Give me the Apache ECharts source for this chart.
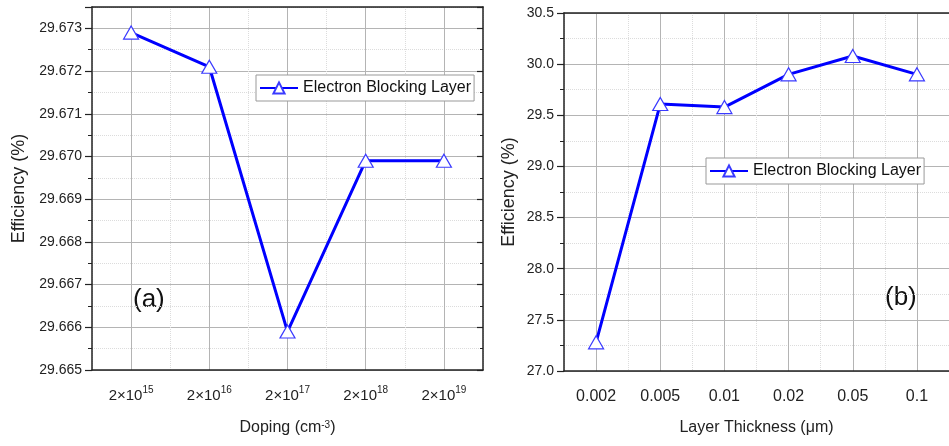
<!DOCTYPE html>
<html>
<head>
<meta charset="utf-8">
<script src="https://cdn.jsdelivr.net/npm/echarts@6/dist/echarts.min.js"></script>
<style>
  html, body { margin: 0; padding: 0; background: #fff; }
  #chart { width: 949px; height: 446px; }
</style>
</head>
<body>
<div id="chart"></div>
<script>
// datos
const seriesName = 'Electron Blocking Layer';
const dopingLabels = ['2×10^15', '2×10^16', '2×10^17', '2×10^18', '2×10^19'];
const dopingEff = [29.6729, 29.6721, 29.6659, 29.6699, 29.6699];
const thicknessLabels = ['0.002', '0.005', '0.01', '0.02', '0.05', '0.1'];
const thicknessEff = [27.28, 29.61, 29.58, 29.90, 30.08, 29.90];

const dark = '#222';
const majorGrid = '#b4b4b4';
const minorGrid = '#dcdcdc';

const dom = document.getElementById('chart');
const myChart = echarts.init(dom);

// ejes x: principal abajo, menor abajo, y espejo arriba
function xAxes(gridIndex, cats, labelOpt, name, nameGap, nameRich) {
    return [
        {
            type: 'category', gridIndex: gridIndex, data: cats, position: 'bottom',
            axisLine: { lineStyle: { color: dark, width: 1.5 } },
            axisTick: { alignWithLabel: true, length: 6, lineStyle: { color: dark, width: 1.2 } },
            axisLabel: labelOpt,
            splitLine: { show: true, alignWithLabel: true, lineStyle: { color: majorGrid } },
            name: name, nameLocation: 'middle', nameGap: nameGap,
            nameTextStyle: { fontSize: 16, color: dark, rich: nameRich }
        },
        {
            type: 'category', gridIndex: gridIndex, data: cats, position: 'bottom',
            axisLine: { show: false },
            axisTick: { length: 4, lineStyle: { color: dark, width: 1.2 } },
            axisLabel: { show: false },
            splitLine: { show: true, lineStyle: { color: minorGrid, type: 'dotted' } }
        },
        {
            type: 'category', gridIndex: gridIndex, data: cats, position: 'top',
            axisLine: { lineStyle: { color: dark, width: 1.5 } },
            axisTick: { alignWithLabel: true, inside: true, length: 6, lineStyle: { color: dark, width: 1.2 } },
            axisLabel: { show: false }
        },
        {
            type: 'category', gridIndex: gridIndex, data: cats, position: 'top',
            axisLine: { show: false },
            axisTick: { inside: true, length: 6, lineStyle: { color: dark, width: 1.2 } },
            axisLabel: { show: false }
        }
    ];
}

const supFormatter = function (v) {
    const parts = v.split('^');
    return '{b|' + parts[0] + '}{s|' + parts[1] + '}';
};

const option = {
    animation: false,
    textStyle: { fontFamily: 'Liberation Sans, Arial, sans-serif' },
    grid: [
        { left: 92, top: 7, width: 391, height: 363 },
        { left: 564, top: 13, width: 390, height: 358 }
    ],
    xAxis: [].concat(
        xAxes(0, dopingLabels, {
            margin: 15, color: dark, interval: 0, formatter: supFormatter,
            rich: {
                b: { fontSize: 15, color: dark, lineHeight: 22 },
                s: { fontSize: 10, color: dark, verticalAlign: 'top', lineHeight: 10 }
            }
        }, 'Doping (cm{s|-3})', 50, {
            s: { fontSize: 10, color: dark, verticalAlign: 'top', lineHeight: 10 }
        }),
        xAxes(1, thicknessLabels, { margin: 18, fontSize: 16, color: dark, interval: 0 },
            'Layer Thickness (μm)', 49, {})
    ),
    yAxis: [
        {
            type: 'value', gridIndex: 0, position: 'left',
            min: 29.665, max: 29.6735, interval: 0.001,
            axisLine: { show: true, lineStyle: { color: dark, width: 1.5 } },
            axisTick: { show: true, length: 7, lineStyle: { color: dark, width: 1.2 } },
            minorTick: { show: true, splitNumber: 2, length: 4, lineStyle: { color: dark } },
            splitLine: { show: true, lineStyle: { color: majorGrid } },
            minorSplitLine: { show: true, lineStyle: { color: minorGrid, type: 'dotted' } },
            axisLabel: { margin: 10, fontSize: 14, color: dark, showMaxLabel: false,
                formatter: v => v.toFixed(3) },
            name: 'Efficiency (%)', nameLocation: 'middle', nameGap: 64,
            nameTextStyle: { fontSize: 18, color: dark }
        },
        {
            type: 'value', gridIndex: 0, position: 'right',
            min: 29.665, max: 29.6735, interval: 0.001,
            axisLine: { show: true, lineStyle: { color: dark, width: 1.5 } },
            axisTick: { show: true, inside: true, length: 6, lineStyle: { color: dark, width: 1.2 } },
            minorTick: { show: true, splitNumber: 2, length: 3, lineStyle: { color: dark } },
            splitLine: { show: false },
            axisLabel: { show: false }
        },
        {
            type: 'value', gridIndex: 1, position: 'left',
            min: 27.0, max: 30.5, interval: 0.5,
            axisLine: { show: true, lineStyle: { color: dark, width: 1.5 } },
            axisTick: { show: true, length: 7, lineStyle: { color: dark, width: 1.2 } },
            minorTick: { show: true, splitNumber: 2, length: 4, lineStyle: { color: dark } },
            splitLine: { show: true, lineStyle: { color: majorGrid } },
            minorSplitLine: { show: true, lineStyle: { color: minorGrid, type: 'dotted' } },
            axisLabel: { margin: 10, fontSize: 14, color: dark, formatter: v => v.toFixed(1) },
            name: 'Efficiency (%)', nameLocation: 'middle', nameGap: 46,
            nameTextStyle: { fontSize: 18, color: dark }
        }
    ],
    legend: [
        {
            data: [seriesName], left: 256, top: 75,
            itemWidth: 38, itemHeight: 14, padding: [5, 3],
            borderColor: '#999', borderWidth: 1, backgroundColor: '#fff',
            textStyle: { fontSize: 16, color: '#111' }
        },
        {
            data: [seriesName], left: 706, top: 158,
            itemWidth: 38, itemHeight: 14, padding: [5, 3],
            borderColor: '#999', borderWidth: 1, backgroundColor: '#fff',
            textStyle: { fontSize: 16, color: '#111' }
        }
    ],
    graphic: [
        { type: 'text', left: 133, top: 287, style: { text: '(a)', font: '26px Liberation Sans', fill: '#111' } },
        { type: 'text', left: 885, top: 285, style: { text: '(b)', font: '26px Liberation Sans', fill: '#111' } }
    ],
    series: [
        {
            name: seriesName, type: 'line', xAxisIndex: 0, yAxisIndex: 0,
            data: dopingEff, symbol: 'triangle', symbolSize: [15, 13],
            lineStyle: { color: '#0000ff', width: 3 },
            itemStyle: { color: '#fff', borderColor: '#3a3aff', borderWidth: 1.2 }
        },
        {
            name: seriesName, type: 'line', xAxisIndex: 4, yAxisIndex: 2,
            data: thicknessEff, symbol: 'triangle', symbolSize: [15, 13],
            lineStyle: { color: '#0000ff', width: 3 },
            itemStyle: { color: '#fff', borderColor: '#3a3aff', borderWidth: 1.2 }
        }
    ]
};

myChart.setOption(option);
</script>
</body>
</html>
